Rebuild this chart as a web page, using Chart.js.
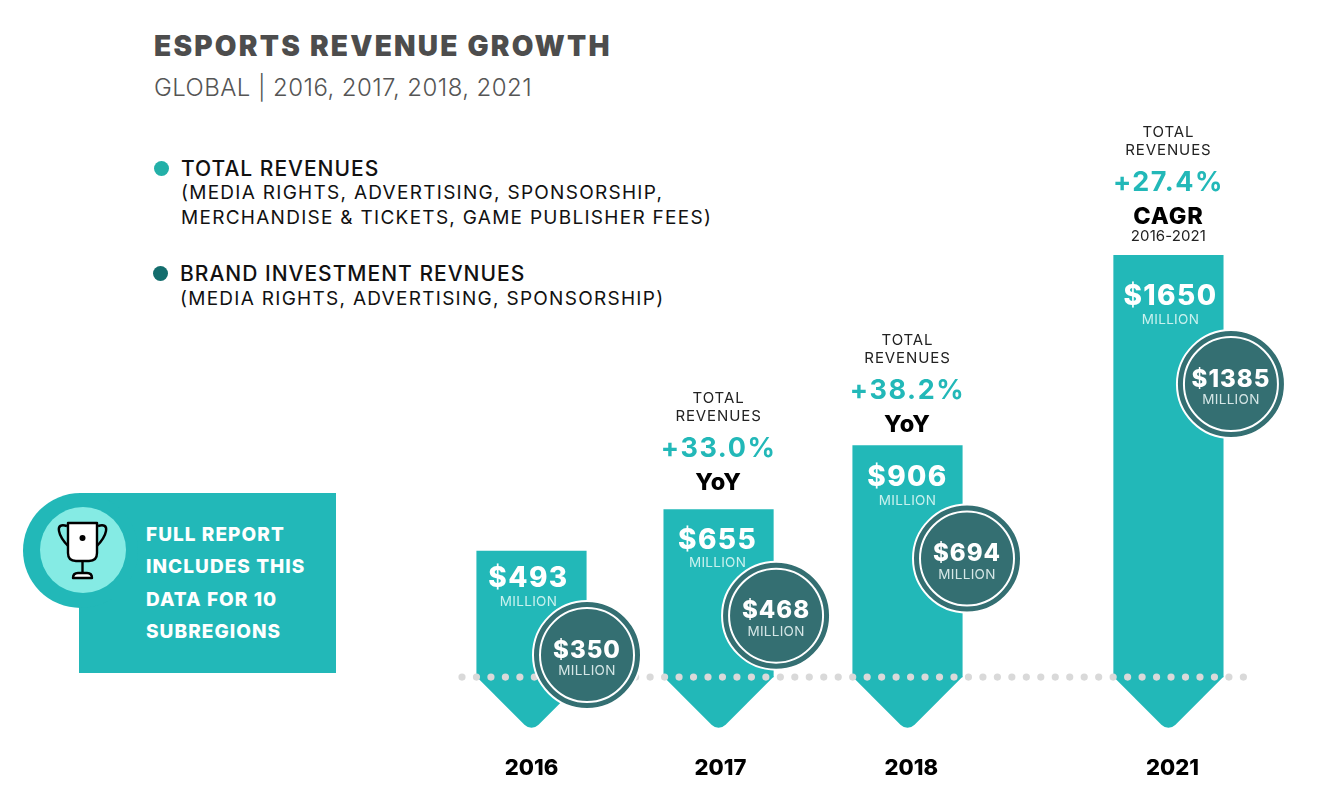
<!DOCTYPE html>
<html>
<head>
<meta charset="utf-8">
<title>Esports revenue growth</title>
<script src="https://cdn.jsdelivr.net/npm/chart.js@4"></script>
<style>
  html, body { margin: 0; background: #fff; }
  #wrap { position: relative; width: 1329px; height: 793px; overflow: hidden; font-family: Inter, sans-serif; }
  canvas { position: absolute; left: 0; top: 0; }
  .t { position: absolute; white-space: nowrap; line-height: 1; }
  .dot { position: absolute; width: 15px; height: 15px; border-radius: 50%; }
  .head { font-size: 21px; font-weight: 500; color: #111; letter-spacing: 1px; }
  .sub { font-size: 19px; font-weight: 400; color: #111; letter-spacing: 1.28px; }
  .card-text { font-size: 19px; font-weight: 800; color: #fff; letter-spacing: 1.05px; }
  #card { position: absolute; left: 79px; top: 493px; width: 257px; height: 180px; background: #22b8b8; }
  #badge { position: absolute; left: 23px; top: 493px; width: 115px; height: 115px; border-radius: 50%; background: #22b8b8; }
  #badge2 { position: absolute; left: 40px; top: 507px; width: 86px; height: 86px; border-radius: 50%; background: #85ebe4; }
</style>
</head>
<body>
<div id="wrap">
  <div class="t" style="left:154px;top:32px;font-size:28px;font-weight:900;color:#4d4d4d;letter-spacing:2.23px">ESPORTS REVENUE GROWTH</div>
  <div class="t" style="left:154px;top:76px;font-size:24px;font-weight:300;color:#555;letter-spacing:.43px">GLOBAL | 2016, 2017, 2018, 2021</div>

  <div class="dot" style="left:154px;top:161px;background:#23b0a8"></div>
  <div class="t head" style="left:181px;top:158px">TOTAL REVENUES</div>
  <div class="t sub" style="left:181px;top:183px">(MEDIA RIGHTS, ADVERTISING, SPONSORSHIP,</div>
  <div class="t sub" style="left:181px;top:208px">MERCHANDISE &amp; TICKETS, GAME PUBLISHER FEES)</div>

  <div class="dot" style="left:153px;top:266px;background:#136d6d"></div>
  <div class="t head" style="left:180px;top:263px">BRAND INVESTMENT REVNUES</div>
  <div class="t sub" style="left:180px;top:289px">(MEDIA RIGHTS, ADVERTISING, SPONSORSHIP)</div>

  <div id="card"></div>
  <div id="badge"></div>
  <div id="badge2"></div>
  <svg style="position:absolute;left:50px;top:515px" width="66" height="70" viewBox="0 0 66 70" fill="none" stroke="#000" stroke-width="2.4" stroke-linejoin="round">
    <path d="M17 11 C11 9 8 11 9 16 C10 22 14 27 19 32" />
    <path d="M48 11 C54 9 57 11 56 16 C55 22 51 27 46 32" />
    <path d="M18 8 H47 V38 Q47 46 39 46 H26 Q18 46 18 38 Z" fill="#fff" />
    <path d="M32.5 46 V58" />
    <path d="M23 63 Q23 58 28 58 H37 Q42 58 42 63 Z" fill="#fff" />
    <circle cx="32.5" cy="23" r="3" fill="#000" stroke="none" />
  </svg>
  <div class="t card-text" style="left:146px;top:525px">FULL REPORT</div>
  <div class="t card-text" style="left:146px;top:557px">INCLUDES THIS</div>
  <div class="t card-text" style="left:146px;top:590px">DATA FOR 10</div>
  <div class="t card-text" style="left:146px;top:622px">SUBREGIONS</div>

  <canvas id="chart" width="1329" height="793"></canvas>
</div>
<script>
  const years = ['2016', '2017', '2018', '2021'];
  const totalRevenues = [493, 655, 906, 1650];
  const brandRevenues = [350, 468, 694, 1385];
  const growthRates = ['', '+33.0%', '+38.2%', '+27.4%'];
  const growthBasis = ['', 'YoY', 'YoY', 'CAGR'];

  // the 2021 column sits further out than the rest, so x is a slot, not a year
  const xSlots = [0, 0.995, 2, 3.388];
  const tickSlots = [0, 1.005, 2.02, 3.41];

  // hand placed in the original: circles and callouts hang off the bar top
  const circleShift = [55.5, 57.5, 59.5, 62.5];
  const circleDrop = [104, 106, 113, 128.6];
  const valueDrop = [26, 29, 30.5, 39.6];
  const valueShift = [-3, -1, 0, 2];
  const calloutLift = [0, 111.6, 105.5, 123.4];

  const TEAL = '#22b8b8';
  const PX_PER_UNIT = 0.2555;
  const PX_PER_SLOT = 188;

  function label(ctx, str, x, y, font, color, spacing) {
    ctx.font = font;
    ctx.fillStyle = color;
    ctx.letterSpacing = (spacing || 0) + 'px';
    ctx.textAlign = 'center';
    ctx.textBaseline = 'middle';
    ctx.fillText(str, x, y);
  }

  const artwork = {
    id: 'artwork',
    // arrow tips and the dotted line go on top of the bars, under the circles
    afterDatasetDraw(chart, args) {
      if (args.index !== 2) return;
      const ctx = chart.ctx;
      const y0 = chart.scales.y.getPixelForValue(0);
      ctx.save();
      ctx.fillStyle = TEAL;
      args.meta.data.forEach(bar => {
        const half = bar.width / 2;
        ctx.beginPath();
        ctx.moveTo(bar.x - half, y0 - 1);
        ctx.lineTo(bar.x - half, y0);
        ctx.arcTo(bar.x, y0 + half, bar.x + half, y0, 10);
        ctx.lineTo(bar.x + half, y0);
        ctx.lineTo(bar.x + half, y0 - 1);
        ctx.closePath();
        ctx.fill();
      });
      ctx.fillStyle = '#d9d9d9';
      for (let x = 462; x < 1250; x += 14.47) {
        ctx.beginPath();
        ctx.arc(x, y0, 3.6, 0, Math.PI * 2);
        ctx.fill();
      }
      ctx.restore();
    },
    afterDatasetsDraw(chart) {
      const ctx = chart.ctx;
      const bars = chart.getDatasetMeta(2).data;
      const discs = chart.getDatasetMeta(1).data;
      ctx.save();
      bars.forEach((bar, i) => {
        const top = bar.y;
        const vx = bar.x + valueShift[i];
        const vy = top + valueDrop[i];
        label(ctx, '$' + totalRevenues[i], vx, vy + 1.5, '800 28px Inter', '#fff', 1.4);
        label(ctx, 'MILLION', vx, vy + 24.5, '400 13.5px Inter', '#c9f1ee', 0.3);

        const c = discs[i];
        label(ctx, '$' + brandRevenues[i], c.x, c.y - 4.5, '800 24px Inter', '#fff', 1);
        label(ctx, 'MILLION', c.x, c.y + 16, '400 13.5px Inter', '#d5e6e6', 0.3);

        if (!growthRates[i]) return;
        const cy = top - calloutLift[i];
        label(ctx, 'TOTAL', bar.x, cy, '400 15px Inter', '#222', 0.9);
        label(ctx, 'REVENUES', bar.x, cy + 18, '400 15px Inter', '#222', 0.9);
        label(ctx, growthRates[i], bar.x, cy + 50.5, '700 27px Inter', TEAL, 1.55);
        label(ctx, growthBasis[i], bar.x, cy + 84.5, '800 23.5px Inter', '#000', 0.9);
        if (growthBasis[i] === 'CAGR') {
          label(ctx, '2016-2021', bar.x, cy + 104, '400 15px Inter', '#222', 0.1);
        }
      });
      ctx.restore();
    }
  };

  new Chart(document.getElementById('chart'), {
    type: 'bar',
    data: {
      datasets: [
        {
          // thin white ring inside each circle
          type: 'bubble',
          data: brandRevenues.map((v, i) => ({
            x: xSlots[i] + circleShift[i] / PX_PER_SLOT,
            y: totalRevenues[i] - circleDrop[i] / PX_PER_UNIT
          })),
          radius: 47,
          backgroundColor: 'rgba(0,0,0,0)',
          borderColor: '#fff',
          borderWidth: 2
        },
        {
          type: 'bubble',
          label: 'Brand investment revenues',
          data: brandRevenues.map((v, i) => ({
            x: xSlots[i] + circleShift[i] / PX_PER_SLOT,
            y: totalRevenues[i] - circleDrop[i] / PX_PER_UNIT
          })),
          radius: 54,
          backgroundColor: '#346f72',
          borderColor: '#fff',
          borderWidth: 2
        },
        {
          label: 'Total revenues',
          data: totalRevenues.map((v, i) => ({ x: xSlots[i], y: v })),
          backgroundColor: TEAL,
          barThickness: 109.5
        }
      ]
    },
    options: {
      responsive: false,
      animation: false,
      events: [],
      layout: { autoPadding: false, padding: { top: 16.3, left: 0, right: 0, bottom: 0 } },
      plugins: { legend: { display: false }, tooltip: { enabled: false } },
      scales: {
        x: {
          type: 'linear',
          offset: false,
          min: -531.5 / PX_PER_SLOT,
          max: (1329 - 531.5) / PX_PER_SLOT,
          grid: { display: false },
          border: { display: false },
          afterBuildTicks: scale => { scale.ticks = tickSlots.map(v => ({ value: v })); },
          afterFit: scale => { scale.height = 48; },
          ticks: {
            callback: (v, i) => years[i],
            autoSkip: false,
            maxRotation: 0,
            padding: 2,
            color: '#000',
            font: { family: 'Inter', size: 22, weight: '800' }
          }
        },
        y: {
          display: false,
          offset: false,
          min: -266,
          max: 2586
        }
      }
    },
    plugins: [artwork]
  });
</script>
</body>
</html>
